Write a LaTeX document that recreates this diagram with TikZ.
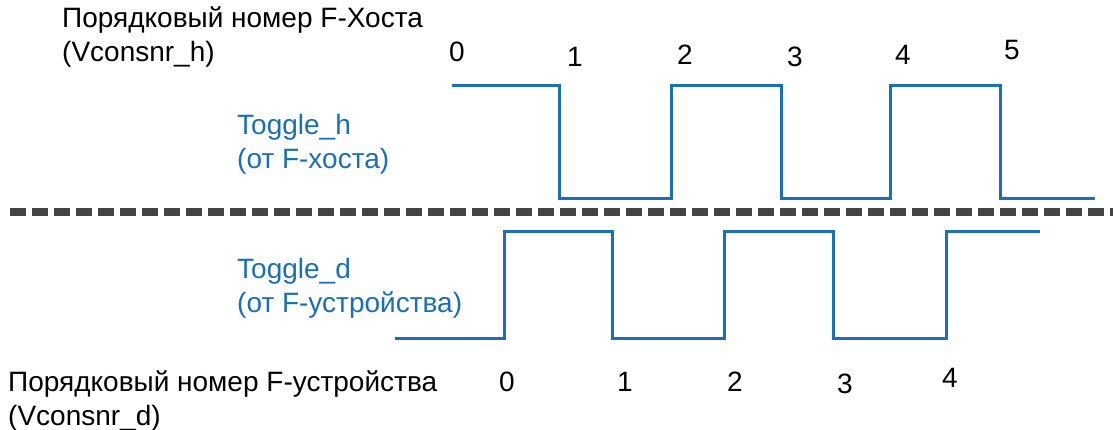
\documentclass[tikz,border=0pt]{standalone}
\usepackage{fontspec}
\setmainfont{Liberation Sans}
\usepackage{tikz}
\definecolor{togblue}{HTML}{1B6FB8}
\definecolor{sepgray}{HTML}{444444}

\begin{document}
\begin{tikzpicture}[x=1pt, y=-1pt,
		lbl/.style={inner sep=0, anchor=base west, align=left, font=\fontsize{28}{34}\selectfont},
		num/.style={inner sep=0, anchor=base, font=\fontsize{28}{34}\selectfont},
		wave/.style={line width=3pt, color=togblue, line join=miter},
		sep/.style={line width=8pt, color=sepgray, dash pattern=on 16pt off 6pt}]
			%%%%% START %%%%%
			\useasboundingbox (0, 0) rectangle (1113, 430);
			
			\node[lbl] (hosttitle) at (62, 28) {Порядковый номер F-Хоста};
			\node[lbl] (hostvar) at (62, 62) {(Vconsnr\_h)};
			
			\node[num] (h0) at (457, 62) {0};
			\node[num] (h1) at (575, 67) {1};
			\node[num] (h2) at (685, 65) {2};
			\node[num] (h3) at (795, 67) {3};
			\node[num] (h4) at (903, 65) {4};
			\node[num] (h5) at (1012, 60) {5};
			
			\node[lbl, color=togblue] (toggleh) at (237, 135) {Toggle\_h};
			\node[lbl, color=togblue] (toggleho) at (237, 169) {(от F-хоста)};
			
			\draw[wave] (452, 86) -- (559, 86) -- (559, 199) -- (671, 199) -- (671, 86) -- (781, 86)
				-- (781, 199) -- (890, 199) -- (890, 86) -- (1000, 86) -- (1000, 199) -- (1095, 199);
			
			\draw[sep] (10, 212) -- (1113, 212);
			
			\draw[wave] (395, 338) -- (504, 338) -- (504, 232) -- (612, 232) -- (612, 338) -- (724, 338)
				-- (724, 232) -- (833, 232) -- (833, 338) -- (946, 338) -- (946, 232) -- (1040, 232);
			
			\node[lbl, color=togblue] (toggled) at (237, 278) {Toggle\_d};
			\node[lbl, color=togblue] (toggledo) at (237, 312) {(от F-устройства)};
			
			\node[lbl] (devtitle) at (8, 391) {Порядковый номер F-устройства};
			\node[lbl] (devvar) at (8, 425) {(Vconsnr\_d)};
			
			\node[num] (d0) at (507, 391) {0};
			\node[num] (d1) at (625, 391) {1};
			\node[num] (d2) at (735, 391) {2};
			\node[num] (d3) at (845, 393) {3};
			\node[num] (d4) at (950, 387) {4};
			
			%%%%% END %%%%%
		\end{tikzpicture}
\end{document}
